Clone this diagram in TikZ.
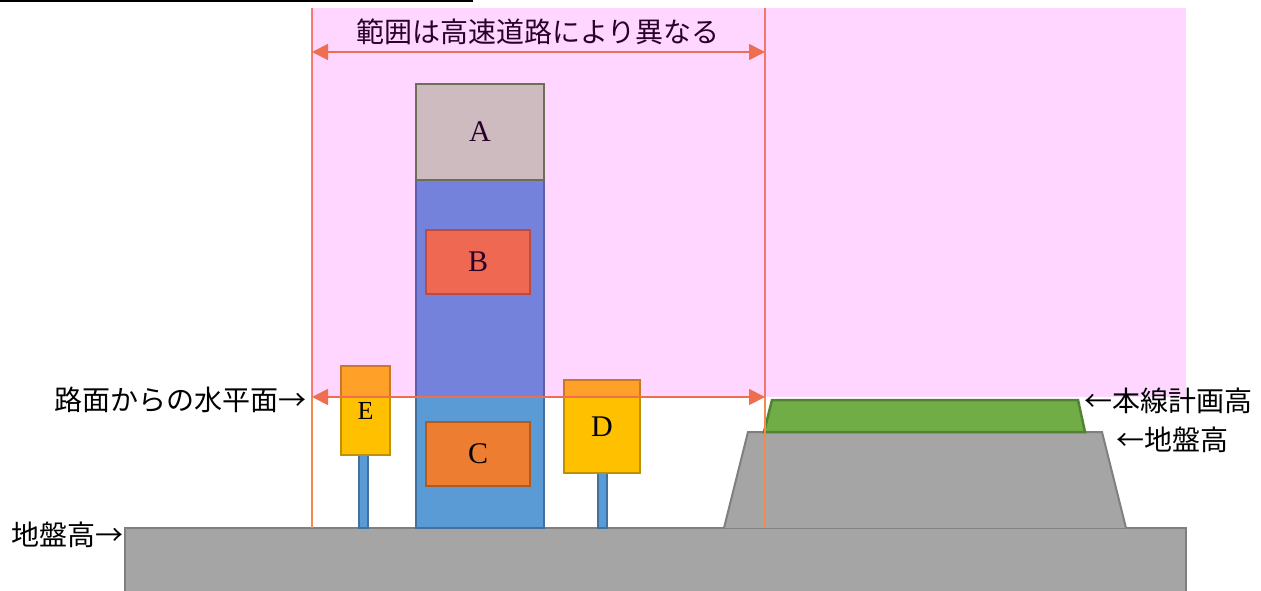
\documentclass[tikz,border=0pt]{standalone}
\usepackage{fontspec}
\setmainfont{Liberation Serif}
\newfontfamily\jp{Noto Sans CJK JP}
\usetikzlibrary{arrows.meta}
\definecolor{groundfill}{HTML}{A5A5A5}
\definecolor{grounddraw}{HTML}{7F7F7F}
\definecolor{greenfill}{HTML}{70AD47}
\definecolor{greendraw}{HTML}{548235}
\definecolor{bluefill}{HTML}{5B9BD5}
\definecolor{bluedraw}{HTML}{41719C}
\definecolor{afill}{HTML}{C5E0B4}
\definecolor{orfill}{HTML}{ED7D31}
\definecolor{ordraw}{HTML}{AE5A21}
\definecolor{goldfill}{HTML}{FFC000}
\definecolor{golddraw}{HTML}{BF9000}
\definecolor{guide}{HTML}{F28C4E}
\definecolor{dimline}{HTML}{F06E50}
\definecolor{zone}{HTML}{FF00FF}
\begin{document}
\begin{tikzpicture}[x=1pt,y=-1pt,
  blk/.style={draw, line width=2.5pt, inner sep=0pt, font=\fontsize{30}{30}\selectfont},
  post/.style={draw=bluedraw, fill=bluefill, line width=2pt, inner sep=0pt, minimum width=9pt},
  terrain/.style={fill=groundfill, draw=grounddraw, line width=2pt},
  guideline/.style={draw=guide, line width=1.3pt},
  dimarrow/.style={draw=dimline, line width=1.8pt, {Triangle[length=16pt,width=16pt]}-{Triangle[length=16pt,width=16pt]}},
  jlabel/.style={font=\jp\fontsize{28}{28}\selectfont, inner sep=0pt}]
\useasboundingbox (0,0) rectangle (1261,591);
% top rule
\draw[line width=2pt] (0,0.8) -- (473,0.8);
% ground
\draw[terrain] (125,528) rectangle (1186,620);
% embankment
\draw[terrain] (724,528) -- (748,432) -- (1102,432) -- (1126,528);
% planned road
\draw[fill=greenfill, draw=greendraw, line width=2.5pt] (764,432) -- (772,400) -- (1078,400) -- (1085,432) -- cycle;
% column
\node[blk, fill=bluefill, draw=bluedraw, minimum width=128pt, minimum height=348pt] (col) at (480,354) {};
\node[blk, fill=afill, draw=greendraw, minimum width=128pt, minimum height=96pt] (A) at (480,132) {\raisebox{-2pt}{A}};
\node[blk, fill=orfill, draw=ordraw, minimum width=104pt, minimum height=64pt] (B) at (478,262) {B};
\node[blk, fill=orfill, draw=ordraw, minimum width=104pt, minimum height=64pt] (C) at (478,454) {C};
% signs
\node[post, minimum height=73pt] (Ep) at (363.5,491.5) {};
\node[blk, fill=goldfill, draw=golddraw, minimum width=49pt, minimum height=89pt, font=\fontsize{26}{26}\selectfont] (E) at (365.5,410.5) {\raisebox{-4pt}{E}};
\node[post, minimum height=55pt] (Dp) at (602.5,500.5) {};
\node[blk, fill=goldfill, draw=golddraw, minimum width=76pt, minimum height=93pt] (D) at (602,426.5) {\raisebox{-4pt}{D}};
% guide lines
\coordinate (LT) at (312,8);
\coordinate (LB) at (312,528);
\coordinate (RT) at (765,8);
\coordinate (RB) at (765,528);
\draw[guideline] (LT) -- (LB);
\draw[guideline] (RT) -- (RB);
% heading text (under the zone tint)
\node[jlabel, anchor=base] (head) at (538,43) {範囲は高速道路により異なる};
% zone tint
\fill[zone, opacity=0.16] (312,8) rectangle (1186,397);
% dimension arrows
\coordinate (TL) at (312,52);
\coordinate (TR) at (765,52);
\coordinate (HL) at (312,397);
\coordinate (HR) at (765,397);
\draw[dimarrow] (TL) -- (TR);
\draw[dimarrow] (HL) -- (HR);
% labels
\node[jlabel, anchor=base west] (lroad) at (54,410) {路面からの水平面→};
\node[jlabel, anchor=base west] (lground) at (11,545) {地盤高→};
\node[jlabel, anchor=base west] (lplan) at (1084,411) {←本線計画高};
\node[jlabel, anchor=base west] (lground2) at (1116,450) {←地盤高};
\end{tikzpicture}
\end{document}
